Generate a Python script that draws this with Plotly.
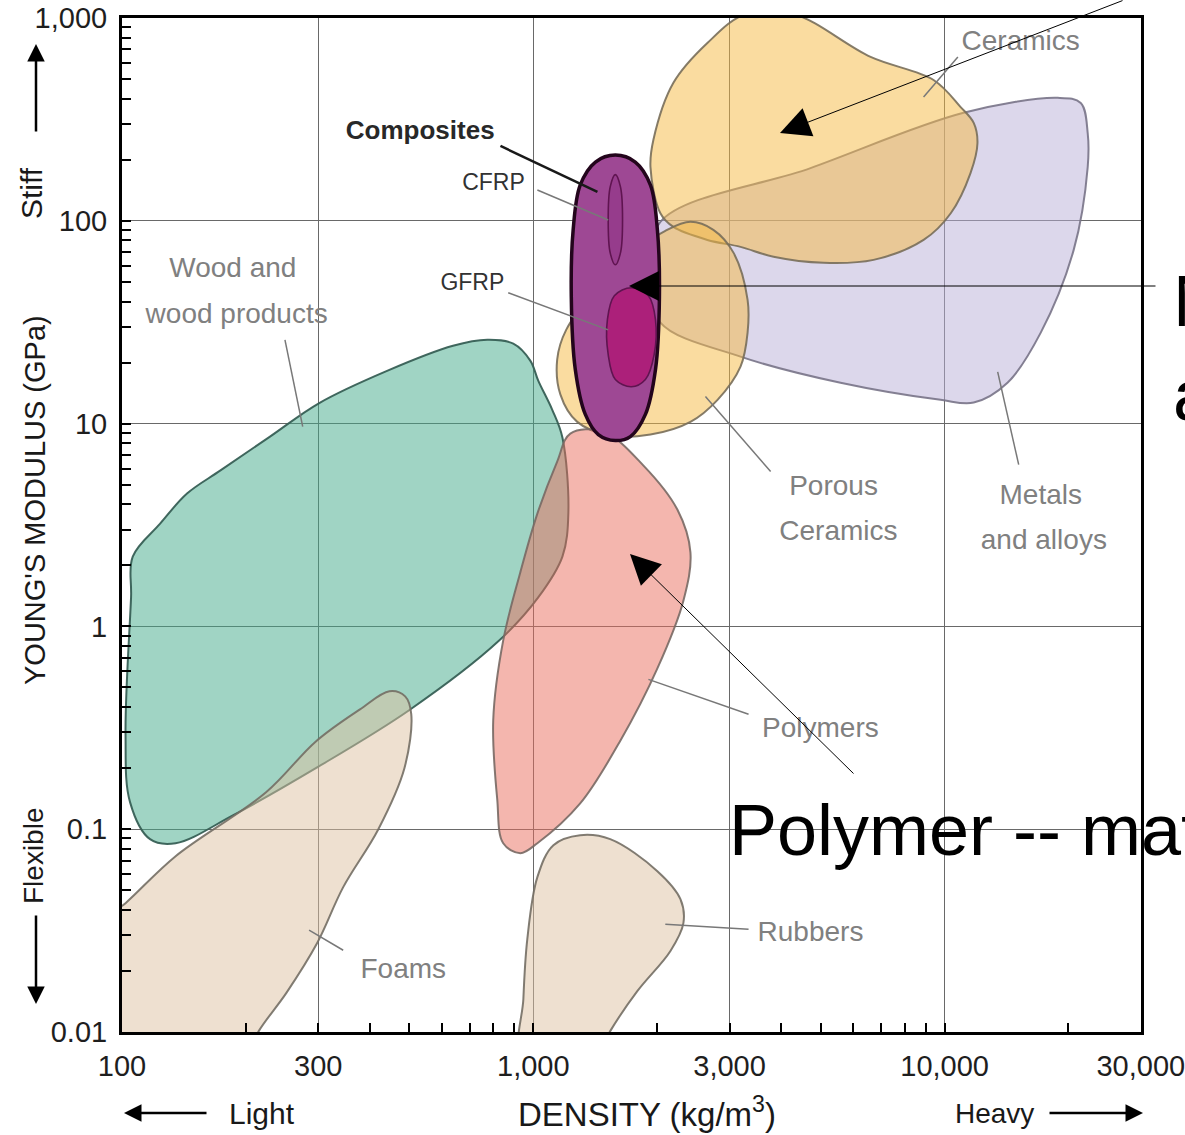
import plotly.graph_objects as go

# ---------------- data (density kg/m^3, Young's modulus GPa) ----------------
wood_density = [773, 894, 984, 1028, 1112, 1177, 1217, 1177, 1028, 822, 499, 296, 186, 135, 117, 104.6, 102, 105.2, 106.2, 123.8, 143.9, 173.2, 229, 301, 441, 638]
wood_modulus = [25.9, 24.8, 20.4, 16.3, 11.7, 8.54, 3.64, 2.21, 1.39, 0.844, 0.386, 0.200, 0.117, 0.0853, 0.0893, 0.136, 0.294, 1.39, 2.21, 3.21, 4.52, 5.86, 8.63, 12.6, 18.2, 24.2]

foams_density = [88.4, 102, 135, 224, 296, 379, 447, 488, 505, 486, 420, 345, 298, 251, 215, 199, 88.4]
foams_modulus = [0.0340, 0.0432, 0.0736, 0.152, 0.271, 0.390, 0.479, 0.452, 0.369, 0.200, 0.1, 0.0518, 0.0274, 0.0156, 0.0101, 0.00736, 0.00736]

poly_density = [1230, 1480, 1853, 2240, 2410, 2317, 2003, 1629, 1300, 1023, 930, 845, 817, 799, 845, 930, 1023, 1143]
poly_modulus = [8.93, 9.13, 6.21, 3.77, 2.32, 1.34, 0.621, 0.274, 0.134, 0.0853, 0.0762, 0.0853, 0.141, 0.344, 0.853, 1.85, 3.60, 6.50]

rub_density = [1119, 1300, 1538, 2003, 2279, 2317, 2155, 1790, 1538, 1416, 940, 946, 967, 1023]
rub_modulus = [0.0834, 0.0934, 0.0893, 0.0621, 0.0452, 0.0344, 0.0251, 0.0159, 0.0101, 0.00736, 0.00736, 0.0146, 0.0287, 0.0580]

met_density = [21430, 18840, 11120, 4720, 2037, 1927, 2037, 3190, 5585, 9776, 11770, 14220, 17130, 20600, 22280, 22280]
met_modulus = [381, 404, 341, 182, 98.9, 51.2, 31.5, 21.4, 15.9, 13.1, 12.7, 15.9, 28.1, 71.9, 184, 271]

cer_density = [1959, 2191, 2650, 3280, 4295, 6607, 9400, 10940, 11770, 12020, 11560, 10350, 8890, 6717, 5080, 3838, 3190, 2650, 2191, 2037, 1927]
cer_modulus = [251, 479, 753, 1046, 1046, 643, 495, 364, 304, 242, 172, 109, 80.5, 64.2, 62.1, 66.5, 74.4, 80.5, 93.3, 109, 184]

por_density = [1143, 1202, 1455, 1820, 2094, 2410, 2740, 3069, 3319, 3319, 3190, 2805, 2410, 1927, 1538, 1279, 1164]
por_modulus = [20.7, 29.0, 48.4, 73.6, 89.3, 98.9, 90.3, 69.5, 40.8, 28.1, 19.1, 13.1, 10.2, 8.83, 8.73, 10.2, 13.9]

comp_density = [1583, 1770, 1927, 2003, 2026, 1982, 1873, 1722, 1583, 1439, 1338, 1265, 1237, 1250, 1300, 1416]
comp_modulus = [211, 195, 150, 90.3, 42.3, 18.5, 11.1, 8.63, 8.25, 8.83, 11.1, 18.5, 42.3, 90.3, 150, 195]

cfrp_density = [1583, 1629, 1648, 1629, 1583, 1538, 1521, 1538]
cfrp_modulus = [169, 147, 101, 69.5, 60.7, 69.5, 101, 147]

gfrp_density = [1731, 1905, 1982, 1967, 1873, 1731, 1583, 1521, 1514, 1574]
gfrp_modulus = [46.8, 42.7, 32.5, 21.9, 16.5, 15.2, 16.5, 21.9, 32.5, 42.7]

# region labels
label_text = ["Wood and", "wood products", "Foams", "Polymers", "Rubbers", "Porous", "Ceramics",
              "Metals", "and alloys", "Ceramics"]
label_density = [186, 190, 483, 4990, 4720, 5370, 5520, 17130, 17430, 15310]
label_modulus = [57.4, 34.0, 0.0200, 0.308, 0.0304, 4.79, 2.90, 4.37, 2.60, 753]

comp_label_text = ["CFRP", "GFRP"]
comp_label_density = [800, 711]
comp_label_modulus = [152, 48.4]

# leader lines (label end -> region end)
leader_d0 = [249, 345, 3337, 3337, 3776, 15140, 10770, 1023, 869]
leader_m0 = [25.9, 0.0253, 0.369, 0.0321, 5.81, 6.28, 643, 142, 44.2]
leader_d1 = [275, 285, 1905, 2094, 2621, 13460, 8890, 1521, 1521]
leader_m1 = [9.66, 0.0318, 0.548, 0.034, 13.6, 18.0, 408, 101, 29.0]

composites_label = "Composites"
composites_density = 531
composites_modulus = 274
composites_leader_d = [832, 1432]
composites_leader_m = [234, 139]

x_tickvals = [100, 300, 1000, 3000, 10000, 30000]
x_ticktext = ["100", "300", "1,000", "3,000", "10,000", "30,000"]
y_tickvals = [0.01, 0.1, 1, 10, 100, 1000]
y_ticktext = ["0.01", "0.1", "1", "10", "100", "1,000"]

# ---------------- figure ----------------
FONT = "Liberation Sans, Arial, sans-serif"
W, H = 1185, 1135
L, R, T, B = 122, 1141, 18, 1032


def P(px, py):
    return (px - L) / (R - L), (B - py) / (B - T)


fig = go.Figure()


def blob(xs, ys, fill, line, width=2.0):
    fig.add_trace(go.Scatter(
        x=list(xs) + [xs[0]], y=list(ys) + [ys[0]], mode="lines", fill="toself",
        fillcolor=fill, line=dict(color=line, width=width, shape="spline", smoothing=1.0),
        hoverinfo="skip", showlegend=False))


blob(met_density, met_modulus, "rgba(185,175,215,0.5)", "rgba(120,115,135,0.9)")
blob(cer_density, cer_modulus, "rgba(245,185,65,0.5)", "rgba(120,110,90,0.9)")
blob(por_density, por_modulus, "rgba(245,185,65,0.5)", "rgba(120,110,90,0.9)")
blob(wood_density, wood_modulus, "rgba(65,169,137,0.5)", "rgba(55,95,85,0.95)")
blob(foams_density, foams_modulus, "rgba(221,193,161,0.5)", "rgba(115,110,100,0.9)")
blob(poly_density, poly_modulus, "rgba(233,109,93,0.5)", "rgba(120,105,100,0.9)")
blob(rub_density, rub_modulus, "rgba(221,193,161,0.5)", "rgba(115,110,100,0.9)")
blob(comp_density, comp_modulus, "rgb(158,72,148)", "rgb(35,5,28)", 3.5)
blob(cfrp_density, cfrp_modulus, "rgb(150,60,140)", "rgb(95,20,80)", 1.6)
blob(gfrp_density, gfrp_modulus, "rgb(172,32,122)", "rgb(95,20,80)", 1.6)

# leader lines
lx, ly = [], []
for a, b, c, d in zip(leader_d0, leader_m0, leader_d1, leader_m1):
    lx += [a, c, None]
    ly += [b, d, None]
fig.add_trace(go.Scatter(x=lx, y=ly, mode="lines", line=dict(color="rgb(120,120,120)", width=1.5),
                         hoverinfo="skip", showlegend=False))
fig.add_trace(go.Scatter(x=composites_leader_d, y=composites_leader_m, mode="lines",
                         line=dict(color="rgb(25,25,25)", width=2.5), hoverinfo="skip", showlegend=False))

# labels
fig.add_trace(go.Scatter(x=label_density, y=label_modulus, mode="text", text=label_text,
                         textposition="middle center",
                         textfont=dict(family=FONT, size=28, color="rgb(128,128,128)"),
                         hoverinfo="skip", showlegend=False))
fig.add_trace(go.Scatter(x=comp_label_density, y=comp_label_modulus, mode="text", text=comp_label_text,
                         textposition="middle center",
                         textfont=dict(family=FONT, size=23, color="rgb(50,50,50)"),
                         hoverinfo="skip", showlegend=False))
fig.add_trace(go.Scatter(x=[composites_density], y=[composites_modulus], mode="text",
                         text=["<b>" + composites_label + "</b>"], textposition="middle center",
                         textfont=dict(family=FONT, size=26, color="rgb(40,40,40)"),
                         hoverinfo="skip", showlegend=False))

axis_common = dict(
    type="log", showline=True, linewidth=3, linecolor="black", mirror=True,
    showgrid=True, gridcolor="rgb(105,105,105)", gridwidth=1.2,
    ticks="inside", ticklen=9, tickwidth=1.5, tickcolor="black",
    minor=dict(ticks="inside", ticklen=9, tickwidth=1.5, tickcolor="black", dtick="D1", showgrid=False),
    zeroline=False, tickfont=dict(family=FONT, size=29, color="rgb(30,30,30)"),
    automargin=False, ticklabeloverflow="allow",
)
fig.update_xaxes(**axis_common, range=[2, 4.4775], tickmode="array", tickvals=x_tickvals,
                 ticktext=x_ticktext, ticklabelstandoff=6)
fig.update_yaxes(**axis_common, range=[-2, 3.0002], tickmode="array", tickvals=y_tickvals,
                 ticktext=y_ticktext, ticklabelstandoff=6)

ann = []


def text(px, py, s, size, angle=0, color="rgb(25,25,25)", xanchor="center", align="center"):
    x, y = P(px, py)
    ann.append(dict(x=x, y=y, xref="paper", yref="paper", text=s, showarrow=False, textangle=angle,
                    xanchor=xanchor, yanchor="middle", align=align,
                    font=dict(family=FONT, size=size, color=color)))


def arrow(hx, hy, tx, ty, width, size):
    x, y = P(hx, hy)
    ann.append(dict(x=x, y=y, xref="paper", yref="paper", text="", showarrow=True,
                    ax=tx - hx, ay=ty - hy, axref="pixel", ayref="pixel",
                    arrowhead=2, arrowsize=size, arrowwidth=width, arrowcolor="black",
                    standoff=0, startstandoff=0))


# axis titles and direction arrows
text(35, 500, "YOUNG'S MODULUS (GPa)", 29, angle=-90)
text(31, 193, "Stiff", 30, angle=-90)
arrow(36, 44, 36, 133, 2.5, 1.4)
text(33, 856, "Flexible", 28, angle=-90)
arrow(36, 1004, 36, 914, 2.5, 1.4)
text(647, 1112, "DENSITY (kg/m<sup>3</sup>)", 33)
text(262, 1113, "Light", 30)
arrow(124, 1113, 208, 1113, 2.5, 1.4)
text(994, 1113, "Heavy", 28)
arrow(1143, 1113, 1048, 1113, 2.5, 1.4)

# overlay annotations
text(727, 830, "Polymer -- matrix", 72, color="black", xanchor="left", align="left")
text(1171, 348, "Natural<br>and", 72, color="black", xanchor="left", align="left")
arrow(780, 133, 1124, -10, 1, 6)
arrow(629, 286, 1157, 286, 1, 6)
arrow(630, 554, 855, 775, 1, 6)

fig.update_layout(
    width=W, height=H, margin=dict(l=L, r=W - R, t=T, b=H - B, autoexpand=False),
    paper_bgcolor="white", plot_bgcolor="white", showlegend=False,
    annotations=ann, font=dict(family=FONT),
)

fig.write_html("out.html", config={"displayModeBar": False},
               post_script="document.body.style.margin='0';document.body.style.overflow='hidden';")
